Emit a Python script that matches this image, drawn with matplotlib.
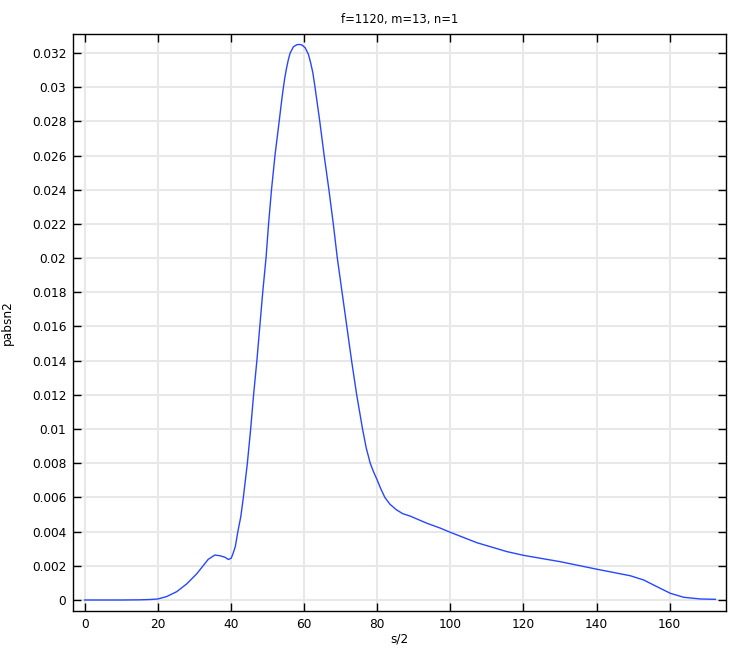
import numpy as np
import matplotlib
matplotlib.use("Agg")
import matplotlib.pyplot as plt
from matplotlib.ticker import MultipleLocator, FuncFormatter

plt.rcParams['font.family'] = ['DejaVu Sans']
plt.rcParams['font.size'] = 8.7

# values
s_half = [0, 5, 10, 15, 18, 20, 22.4, 25.2, 27.9, 30.6, 31.5, 33.8, 35.6, 37.0, 38.4,
          39.3, 40.1, 40.6, 41.2, 41.9, 42.7, 43.4, 44.5, 45.4, 46.2, 47.1, 47.9, 48.7,
          49.6, 50.3, 51.1, 52.05, 53.2, 53.7, 54.2, 54.7, 55.2, 55.7, 56.2, 57.1, 58.0,
          58.7, 59.4, 60.3, 61.2, 61.8, 62.4, 63.0, 64.3, 65.5, 66.8, 68.0, 69.1, 70.4,
          71.7, 73.0, 74.4, 76.0, 77.0, 78.1, 79.0, 80.0, 81.0, 82.1, 83.5, 85.3, 87.0,
          89.0, 93.6, 97.2, 100, 107.3, 115.5, 120.1, 130.1, 140.1, 149.2, 152.9, 156.5,
          160.2, 163.8, 168.4, 172.5]
pabsn2 = [0, 0, 0, 0.00001, 0.00003, 0.00006, 0.0002, 0.00049, 0.00094, 0.00152, 0.00176,
          0.00238, 0.00263, 0.00259, 0.0025, 0.00237, 0.00245, 0.00273, 0.00312, 0.004,
          0.00487, 0.006, 0.008, 0.010, 0.012, 0.014, 0.016, 0.018, 0.020, 0.022, 0.024,
          0.026, 0.028, 0.0289, 0.02975, 0.0305, 0.0311, 0.0316, 0.0320, 0.03236,
          0.03248, 0.0325, 0.03247, 0.03231, 0.03192, 0.03143, 0.03085, 0.030, 0.028,
          0.026, 0.024, 0.022, 0.020, 0.018, 0.016, 0.014, 0.012, 0.010, 0.0089, 0.0080,
          0.0075, 0.00702, 0.0065, 0.0060, 0.0056, 0.00527, 0.00505, 0.00491, 0.00449,
          0.00421, 0.00396, 0.00335, 0.00283, 0.00261, 0.00224, 0.0018, 0.00142, 0.00117,
          0.00078, 0.00039, 0.00016, 0.00006, 0.00004]

fig = plt.figure(figsize=(7.33, 6.5), dpi=100)
ax = fig.add_axes([0.1, 0.06, 0.8905, 0.8877])

ax.plot(s_half, pabsn2, color='#2846ff', linewidth=1.0)

ax.set_xlim(-3.1, 175.4)
ax.set_ylim(-0.000643, 0.03311)
ax.xaxis.set_major_locator(MultipleLocator(20))
ax.yaxis.set_major_locator(MultipleLocator(0.002))
ax.yaxis.set_major_formatter(FuncFormatter(lambda v, p: f'{round(v, 6):g}'))

ax.grid(True, color='#e8e8e8', linewidth=1.5)
ax.set_axisbelow(True)
ax.tick_params(direction='in', length=6, width=1, top=True, right=True,
               labeltop=False, labelright=False, colors='black', pad=5)
for sp in ax.spines.values():
    sp.set_linewidth(1.0)
    sp.set_color('black')

ax.set_title('f=1120, m=13, n=1', fontsize=8.3, pad=8)
ax.set_xlabel('s/2', labelpad=1)
ax.set_ylabel('pabsn2', labelpad=13)

fig.savefig('out.png', dpi=100)
